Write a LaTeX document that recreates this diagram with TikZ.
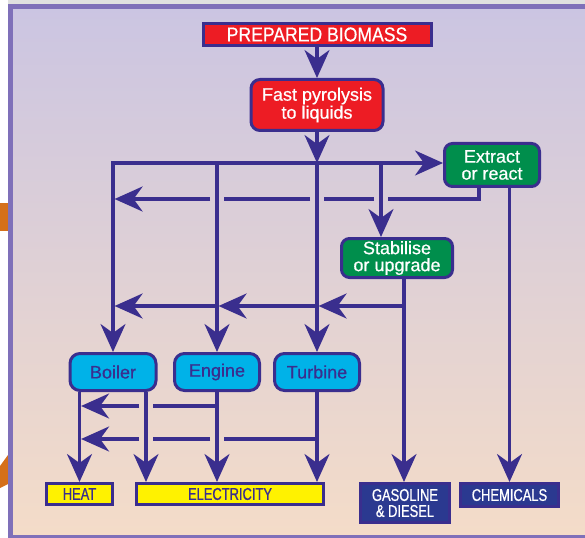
\documentclass[tikz,border=0pt]{standalone}
\usepackage{fontspec}
\setmainfont[FakeBold=0.6]{Liberation Sans}
\newfontfamily\capsfont[FakeStretch=0.88,FakeBold=0.6]{Liberation Sans}
\newfontfamily\labelfont[FakeStretch=0.76,FakeBold=0.7]{Liberation Sans}
\usetikzlibrary{arrows.meta,calc}
\definecolor{bmInk}   {RGB}{ 58, 46,142}
\definecolor{bmRed}   {RGB}{237, 28, 36}
\definecolor{bmGreen} {RGB}{  0,142, 76}
\definecolor{bmCyan}  {RGB}{  0,178,232}
\definecolor{bmYellow}{RGB}{255,242,  0}
\definecolor{bmNavy}  {RGB}{ 43, 57,144}
\definecolor{bmFrame} {RGB}{127,112,185}
\definecolor{bmTop}   {RGB}{203,197,226}
\definecolor{bmMid}   {RGB}{220,206,218}
\definecolor{bmBot}   {RGB}{244,220,200}
\definecolor{bmOrange}{RGB}{213,112, 26}

\begin{document}
\begin{tikzpicture}[x=1pt,y=-1pt,
  >={Stealth[length=28pt,width=25pt,inset=9pt]},
  box/.style={draw=bmInk,line width=3pt,inner sep=0pt,align=center},
  srcbox/.style={box,fill=bmRed,text=white,font=\capsfont\fontsize{20pt}{20pt}\selectfont},
  procbox/.style={box,fill=bmRed,text=white,rounded corners=9pt,
                  font=\fontsize{18pt}{18pt}\selectfont},
  treatbox/.style={box,fill=bmGreen,text=white,rounded corners=8pt,
                   font=\fontsize{18pt}{17pt}\selectfont},
  unitbox/.style={box,fill=bmCyan,text=bmInk,rounded corners=10pt,
                  font=\fontsize{18pt}{18pt}\selectfont},
  endbox/.style={box,fill=bmYellow,text=bmInk,font=\labelfont\fontsize{17pt}{17pt}\selectfont},
  prodbox/.style={box,fill=bmNavy,text=white,font=\labelfont\fontsize{17pt}{16pt}\selectfont},
  feed/.style={draw=bmInk,line width=3.2pt}
]
\useasboundingbox (0,0) rectangle (585,537);
\clip (0,0) rectangle (585,537);
% Frame and background
\fill[black!12] (8,0) rectangle (585,4);
\fill[bmOrange] (0,203) rectangle (8,231);
\fill[bmOrange] (0,466) -- (8,455) -- (8,484) -- (0,488) -- cycle;
\shade[top color=bmTop,middle color=bmMid,bottom color=bmBot] (10.5,6.5) rectangle (600,537.5);
\draw[bmFrame,line width=5pt] (10.5,6.5) rectangle (600,537.5);
% Feed and conversion
\node[srcbox,minimum width=228pt,minimum height=22pt] (prep) at (317,34.5) {PREPARED BIOMASS};
\node[procbox,minimum width=132pt,minimum height=51pt] (pyro) at (317,105) {Fast pyrolysis\\to liquids};
\node[treatbox,minimum width=95pt,minimum height=43pt] (extract) at (492,165) {Extract\\or react};
\node[treatbox,minimum width=111pt,minimum height=39pt] (stab) at (397,258) {Stabilise\\or upgrade};
% Conversion units
\node[unitbox,minimum width=86pt,minimum height=37pt] (boiler) at (113,372) {Boiler};
\node[unitbox,minimum width=85pt,minimum height=37pt] (engine) at (217,372) {Engine};
\node[unitbox,minimum width=85pt,minimum height=37pt] (turbine) at (317,372) {Turbine};
% Products
\node[endbox,minimum width=66pt,minimum height=21pt] (heat) at (79.5,494) {HEAT};
\node[endbox,minimum width=187pt,minimum height=21pt] (elec) at (230,494) {ELECTRICITY};
\node[prodbox,minimum width=89pt,minimum height=39pt] (gas) at (405,503) {GASOLINE\\\& DIESEL};
\node[prodbox,minimum width=98pt,minimum height=23pt] (chem) at (509.5,495) {CHEMICALS};
% Main distribution line under the pyrolysis unit
\coordinate (split) at (317,163);
\coordinate (stabIn) at (381,163);
\draw[feed,->] (prep) -- (pyro);
\draw[feed,->] (pyro) -- (split);
\draw[feed,->] ([xshift=-1.6pt]split -| boiler) -- (split -| extract.west);
\draw[feed,->] (split -| boiler) -- (boiler);
\draw[feed,->] (split -| engine) -- (engine);
\draw[feed,->] (split) -- (turbine);
\draw[feed,->] (stabIn) -- (stabIn |- stab.north);
% Extract / react: back to the units (broken where it passes the verticals)
\coordinate (exBack) at (479,199);
\draw[feed] (extract.south -| exBack) -- (exBack) -- ($(exBack -| stabIn)+(7,0)$);
\draw[feed] ($(exBack -| stabIn)+(-7,0)$) -- ($(exBack -| turbine)+(7,0)$);
\draw[feed] ($(exBack -| turbine)+(-7,0)$) -- ($(exBack -| engine)+(7,0)$);
\draw[feed,->] ($(exBack -| engine)+(-7,0)$) -- ($(exBack -| boiler)+(1.6,0)$);
\draw[feed,->] (extract.south -| chem) -- (chem);
% Stabilise / upgrade: to fuels and to the units
\coordinate (stabOut) at (404,306);
\draw[feed,->] (stab.south -| stabOut) -- (stabOut |- gas.north);
\draw[feed,->] ([xshift=1.6pt]stabOut) -- ($(stabOut -| turbine)+(1.6,0)$);
\draw[feed,->] (stabOut -| turbine) -- ($(stabOut -| engine)+(1.6,0)$);
\draw[feed,->] (stabOut -| engine) -- ($(stabOut -| boiler)+(1.6,0)$);
% Units to heat and electricity
\coordinate (bElec) at ($(boiler.south)+(33,0)$);
\draw[feed,->] (boiler.south -| heat) -- (heat);
\draw[feed,->] (bElec) -- (bElec |- elec.north);
\draw[feed,->] (engine.south) -- (engine.south |- elec.north);
\draw[feed,->] (turbine.south) -- (turbine.south |- elec.north);
\coordinate (engHeat) at ($(engine.south)+(0,14)$);
\draw[feed] (engHeat) -- ($(engHeat -| bElec)+(7,0)$);
\draw[feed,->] ($(engHeat -| bElec)+(-7,0)$) -- ($(engHeat -| heat)+(1.6,0)$);
\coordinate (turHeat) at ($(turbine.south)+(0,47)$);
\draw[feed] (turHeat) -- ($(turHeat -| engine)+(7,0)$);
\draw[feed] ($(turHeat -| engine)+(-7,0)$) -- ($(turHeat -| bElec)+(7,0)$);
\draw[feed,->] ($(turHeat -| bElec)+(-7,0)$) -- ($(turHeat -| heat)+(1.6,0)$);
\end{tikzpicture}
\end{document}
